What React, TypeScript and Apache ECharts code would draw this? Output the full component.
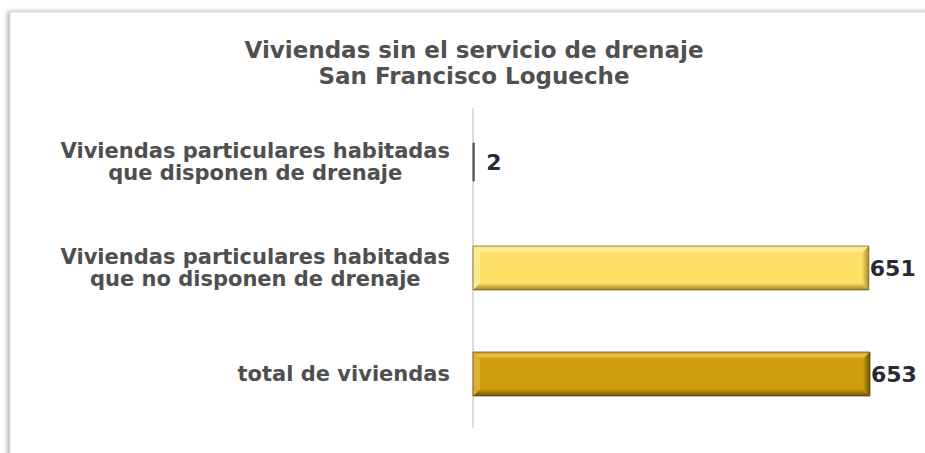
import React, { useEffect, useRef } from 'react';
import * as echarts from 'echarts';

const titleText = 'Viviendas sin el servicio de drenaje\nSan Francisco Logueche';
const categories = [
  'Viviendas particulares habitadas\nque disponen de drenaje',
  'Viviendas particulares habitadas\nque no disponen de drenaje',
  'total de viviendas',
];
const values = [2, 651, 653];
const axisMax = 653;

const FONT = '"DejaVu Sans", Verdana, sans-serif';
const BAR_H = 44;
const BEVEL = 7;
const labelDistances = [12, 1, 1];

const palettes = [
  { face: '#5c5c5c', top: '#7a7a7a', bottom: '#3c3c3c', left: '#6a6a6a', right: '#3c3c3c', edge: '#505050' },
  { face: '#FFE066', top: '#FFF0A8', bottom: '#9E8128', left: '#FFEA92', right: '#A88A2A', edge: '#6E5A1C' },
  { face: '#CF9E0F', top: '#EAC34C', bottom: '#6E5205', left: '#DDB233', right: '#6F5207', edge: '#5A4306' },
];

export default function App() {
  const ref = useRef<HTMLDivElement>(null);
  useEffect(() => {
    if (!ref.current) return;
    const chart = echarts.init(ref.current, null, { renderer: 'svg' });
    const option: any = {
      animation: false,
      backgroundColor: '#ffffff',
      graphic: {
        elements: [
          {
            type: 'rect',
            z: -10,
            silent: true,
            shape: { x: 10, y: 12, width: 960, height: 480 },
            style: {
              fill: '#ffffff',
              stroke: '#d6d6d6',
              lineWidth: 1,
              shadowBlur: 4,
              shadowOffsetX: -2,
              shadowOffsetY: 0,
              shadowColor: 'rgba(0,0,0,0.35)',
            },
          },
        ],
      },
      title: {
        text: titleText,
        left: 474,
        top: 37,
        padding: 0,
        textAlign: 'center',
        textStyle: {
          fontFamily: FONT,
          fontSize: 23,
          fontWeight: 'bold',
          color: '#505050',
          lineHeight: 26,
        },
      },
      grid: { left: 473, right: 55, top: 109, bottom: 26, containLabel: false },
      xAxis: {
        type: 'value',
        min: 0,
        max: axisMax,
        show: false,
        splitLine: { show: false },
      },
      yAxis: {
        type: 'category',
        data: categories,
        inverse: true,
        axisLine: { show: true, lineStyle: { color: '#cfcfcf', width: 1.5 } },
        axisTick: { show: false },
        splitLine: { show: false },
        axisLabel: {
          margin: 23,
          lineHeight: 22,
          formatter: (v: string) => v.split('\n').map((l) => `{c|${l}}`).join('\n'),
          rich: {
            c: {
              align: 'center',
              fontFamily: FONT,
              fontSize: 21,
              fontWeight: 'bold',
              color: '#4f4f4f',
              lineHeight: 22,
            },
          },
        },
      },
      series: [
        {
          type: 'custom',
          z: 3,
          encode: { x: 0, y: 1 },
          data: values.map((v, i) => [v, i]),
          renderItem: (params: any, api: any) => {
            const idx = params.dataIndex;
            const cat = api.value(1);
            const s = api.coord([0, cat]);
            const e = api.coord([api.value(0), cat]);
            const x0 = s[0];
            const x1 = e[0];
            const y0 = s[1] - BAR_H / 2;
            const y1 = s[1] + BAR_H / 2;
            const w = x1 - x0;
            const p = palettes[idx];
            if (w < 4 * BEVEL) {
              return {
                type: 'rect',
                shape: { x: x0, y: y0 + 3, width: Math.max(w, 1), height: BAR_H - 6 },
                style: { fill: p.face, stroke: p.edge, lineWidth: 1 },
              };
            }
            const b = BEVEL;
            return {
              type: 'group',
              children: [
                { type: 'rect', shape: { x: x0, y: y0, width: w, height: BAR_H }, style: { fill: p.face } },
                {
                  type: 'polygon',
                  shape: { points: [[x0, y0], [x1, y0], [x1 - b, y0 + b], [x0 + b, y0 + b]] },
                  style: {
                    fill: {
                      type: 'linear', x: 0, y: 0, x2: 0, y2: 1,
                      colorStops: [
                        { offset: 0, color: p.face },
                        { offset: 0.5, color: p.top },
                        { offset: 1, color: p.face },
                      ],
                    },
                  },
                },
                {
                  type: 'polygon',
                  shape: { points: [[x0, y1], [x1, y1], [x1 - b, y1 - b], [x0 + b, y1 - b]] },
                  style: {
                    fill: {
                      type: 'linear', x: 0, y: 0, x2: 0, y2: 1,
                      colorStops: [
                        { offset: 0, color: p.face },
                        { offset: 1, color: p.bottom },
                      ],
                    },
                  },
                },
                {
                  type: 'polygon',
                  shape: { points: [[x0, y0], [x0 + b, y0 + b], [x0 + b, y1 - b], [x0, y1]] },
                  style: { fill: p.left },
                },
                {
                  type: 'polygon',
                  shape: { points: [[x1, y0], [x1 - b, y0 + b], [x1 - b, y1 - b], [x1, y1]] },
                  style: {
                    fill: {
                      type: 'linear', x: 0, y: 0, x2: 1, y2: 0,
                      colorStops: [
                        { offset: 0, color: p.face },
                        { offset: 1, color: p.right },
                      ],
                    },
                  },
                },
                {
                  type: 'rect',
                  shape: { x: x0, y: y0, width: w, height: BAR_H },
                  style: { fill: 'none', stroke: p.edge, lineWidth: 1, opacity: 0.7 },
                },
              ],
            };
          },
        },
        {
          type: 'bar',
          z: 2,
          barWidth: BAR_H,
          itemStyle: { color: 'rgba(0,0,0,0)' },
          label: {
            show: true,
            position: 'right',
            fontFamily: FONT,
            fontSize: 22,
            fontWeight: 'bold',
            color: '#2a2a33',
          },
          data: values.map((v, i) => ({ value: v, label: { distance: labelDistances[i] } })),
        },
      ],
    };
    chart.setOption(option);
    return () => chart.dispose();
  }, []);
  return (
    <div
      ref={ref}
      style={{ position: 'fixed', left: 0, top: 0, width: 925, height: 453, background: '#fff' }}
    />
  );
}
